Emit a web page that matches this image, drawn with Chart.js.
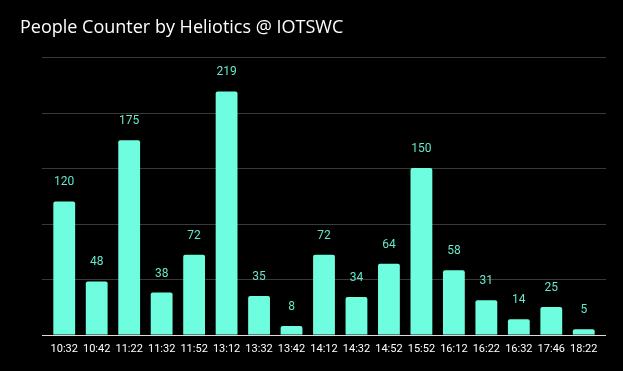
<!DOCTYPE html>
<html lang="en">
<head>
    <meta charset="UTF-8">
    <title>People Counter</title>
    <script src="https://cdn.jsdelivr.net/npm/chart.js"></script>
    <style>
        html, body { margin: 0; padding: 0; background: #000; }
        #wrap { width: 623px; height: 371px; }
    </style>
</head>
<body>
<div id="wrap"><canvas id="peopleChart"></canvas></div>
<script>
    // data
    const times = ["10:32", "10:42", "11:22", "11:32", "11:52", "13:12", "13:32", "13:42", "14:12",
                   "14:32", "14:52", "15:52", "16:12", "16:22", "16:32", "17:46", "18:22"];
    const counts = [120, 48, 175, 38, 72, 219, 35, 8, 72, 34, 64, 150, 58, 31, 14, 25, 5];
    const yTicks = [0, 50, 100, 150, 200, 250];

    const barColor = "#6ffddf";

    // title in the top left corner
    const titlePlugin = {
        id: "leftTitle",
        afterDraw(chart) {
            const ctx = chart.ctx;
            ctx.save();
            ctx.fillStyle = "#ffffff";
            ctx.font = "18px 'Open Sans', sans-serif";
            ctx.textBaseline = "middle";
            ctx.fillText("People Counter by Heliotics @ IOTSWC", 20, 28);
            ctx.restore();
        }
    };

    // gridlines run a bit wider than the bars' area
    const wideGrid = {
        id: "wideGrid",
        beforeDatasetsDraw(chart) {
            const ctx = chart.ctx;
            const y = chart.scales.y;
            const left = chart.chartArea.left - 6, right = chart.chartArea.right + 6;
            ctx.save();
            ctx.lineWidth = 1;
            yTicks.forEach(v => {
                const py = Math.round(y.getPixelForValue(v)) + 0.5;
                ctx.strokeStyle = v === 0 ? "#dddddd" : "#3a3a3a";
                ctx.beginPath();
                ctx.moveTo(left, py);
                ctx.lineTo(right, py);
                ctx.stroke();
            });
            ctx.restore();
        }
    };

    // value labels above each bar
    const valueLabels = {
        id: "valueLabels",
        afterDatasetsDraw(chart) {
            const ctx = chart.ctx;
            const meta = chart.getDatasetMeta(0);
            ctx.save();
            ctx.fillStyle = "#66e8cc";
            ctx.font = "12px Roboto, sans-serif";
            ctx.textAlign = "center";
            ctx.textBaseline = "middle";
            meta.data.forEach((bar, i) => {
                ctx.fillText(String(counts[i]), bar.x, bar.y - 19);
            });
            ctx.restore();
        }
    };

    new Chart(document.getElementById("peopleChart"), {
        type: "bar",
        data: {
            labels: times,
            datasets: [{
                data: counts,
                backgroundColor: barColor,
                borderRadius: 2,
                borderSkipped: "bottom",
                categoryPercentage: 0.8,
                barPercentage: 0.84
            }]
        },
        options: {
            responsive: true,
            maintainAspectRatio: false,
            animation: false,
            layout: { padding: { left: 48, right: 23, top: 57, bottom: 15 } },
            plugins: {
                legend: { display: false },
                tooltip: { enabled: false }
            },
            scales: {
                x: {
                    grid: { display: false },
                    border: { display: false },
                    ticks: { color: "#ffffff", font: { family: "Roboto", size: 11 }, maxRotation: 0, autoSkip: false, padding: 0 }
                },
                y: {
                    display: false,
                    min: yTicks[0],
                    max: yTicks[yTicks.length - 1]
                }
            }
        },
        plugins: [titlePlugin, wideGrid, valueLabels]
    });
</script>
</body>
</html>
